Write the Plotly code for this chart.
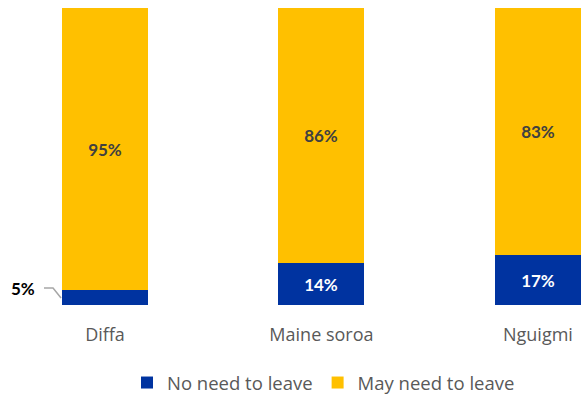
import plotly.graph_objects as go

categories = ["Diffa", "Maine soroa", "Nguigmi"]
no_need = [5, 14, 17]
may_need = [95, 86, 83]
series_names = ["No need to leave", "May need to leave"]

BLUE = "#0033A0"
YELLOW = "#FFC000"
xpos = list(range(len(categories)))

blue_text = ["" if v < 10 else f"{v}%" for v in no_need]
yellow_text = [f"{v}%" for v in may_need]

fig = go.Figure()
fig.add_trace(go.Bar(
    x=xpos, y=no_need, name=series_names[0], marker=dict(color=BLUE, line=dict(width=0)),
    width=0.397, text=blue_text, textposition="inside", insidetextanchor="middle",
    textfont=dict(color="white", size=17, family="Lato", weight="bold"),
    textangle=0, hoverinfo="skip",
))
fig.add_trace(go.Bar(
    x=xpos, y=may_need, name=series_names[1], marker=dict(color=YELLOW, line=dict(width=0)),
    width=0.397, text=yellow_text, textposition="inside", insidetextanchor="middle",
    textfont=dict(color="#404040", size=17, family="Lato", weight="bold"),
    textangle=0, hoverinfo="skip",
))

# outside label for the small Diffa segment
fig.add_annotation(x=-0.38, y=no_need[0] + 0.4, xref="x", yref="y", text=f"<b>{no_need[0]}%</b>",
                   showarrow=False, font=dict(color="#000000", size=17, family="Lato"))
fig.add_shape(type="path", xref="x", yref="y",
              path="M -0.2818 5.72 L -0.240 5.72 L -0.203 2.36",
              line=dict(color="#A6A6A6", width=1.5))

fig.update_layout(
    width=581, height=395,
    margin=dict(l=0, r=0, t=8, b=90, autoexpand=False),
    barmode="stack",
    bargap=0,
    paper_bgcolor="white", plot_bgcolor="white",
    showlegend=True,
    legend=dict(orientation="h", x=(141 - 14) / 581, xanchor="left",
                yref="container", y=1 - 383 / 395, yanchor="middle",
                traceorder="normal", font=dict(color="#595959", size=18.5, family="Open Sans"),
                itemwidth=30, bgcolor="rgba(0,0,0,0)"),
    xaxis=dict(range=[-0.485, 2.199], tickvals=xpos, ticktext=categories,
               showgrid=False, zeroline=False, showline=False, automargin=False,
               ticks="outside", ticklen=13, tickcolor="rgba(0,0,0,0)",
               tickfont=dict(color="#595959", size=18, family="Open Sans")),
    yaxis=dict(range=[0, 100], visible=False, showgrid=False, zeroline=False),
)

fig.write_html("out.html")
